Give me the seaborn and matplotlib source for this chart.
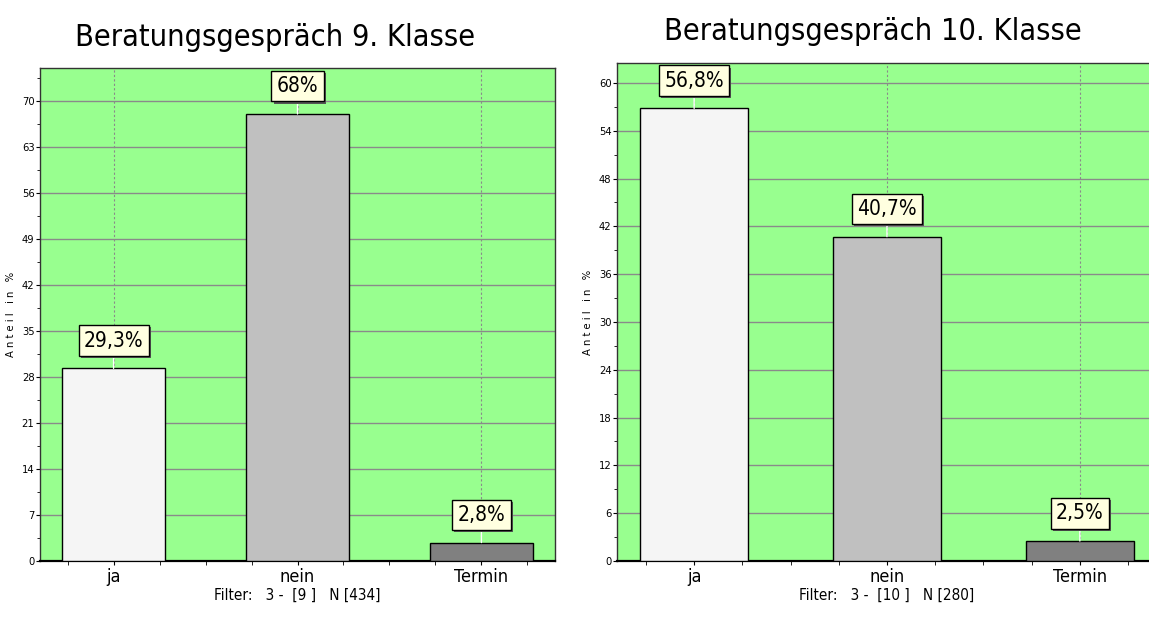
import matplotlib
matplotlib.use('Agg')
import matplotlib.pyplot as plt
import matplotlib.patheffects as pe
import seaborn as sns
import pandas as pd
from matplotlib.ticker import MultipleLocator

# data
kategorien = ['ja', 'nein', 'Termin']
werte_9 = [29.3, 68.0, 2.8]
werte_10 = [56.8, 40.7, 2.5]
labels_9 = ['29,3%', '68%', '2,8%']
labels_10 = ['56,8%', '40,7%', '2,5%']
titel_9 = 'Beratungsgespräch 9. Klasse'
titel_10 = 'Beratungsgespräch 10. Klasse'
filter_9 = 'Filter:   3 -  [9 ]   N [434]'
filter_10 = 'Filter:   3 -  [10 ]   N [280]'

farben = {'ja': '#f5f5f5', 'nein': '#c0c0c0', 'Termin': '#808080'}
gruen = '#98ff8f'

sns.set_style('white')
plt.rcParams['font.family'] = ['DejaVu Sans']
plt.rcParams['font.stretch'] = 'condensed'
for k in ['text.color', 'axes.labelcolor', 'xtick.color', 'ytick.color']:
    plt.rcParams[k] = 'black'

fig = plt.figure(figsize=(11.49, 6.17), dpi=100)
ax1 = fig.add_axes([40 / 1149, 56 / 617, 515 / 1149, 493 / 617])
ax2 = fig.add_axes([617 / 1149, 56 / 617, 540 / 1149, 498 / 617])


def zeichne(ax, werte, labels, ymax, step, filt):
    df = pd.DataFrame({'kat': kategorien, 'wert': werte})
    sns.barplot(data=df, x='kat', y='wert', hue='kat', palette=farben,
                width=0.56, edgecolor='black', linewidth=1.0,
                legend=False, ax=ax, zorder=3)
    ax.set_facecolor(gruen)
    ax.set_xlim(-0.4, 2.4)
    ax.set_ylim(0, ymax)
    ax.yaxis.set_major_locator(MultipleLocator(step))
    ax.yaxis.set_minor_locator(MultipleLocator(step / 2))
    ax.xaxis.set_minor_locator(MultipleLocator(0.25))
    ax.grid(axis='y', which='major', color='#8a8a8a', linewidth=1.0, zorder=0)
    ax.grid(axis='x', which='major', color='#8a8a8a', linewidth=0.8,
            linestyle=(0, (2, 2)), zorder=0)
    ax.set_axisbelow(True)
    ax.tick_params(axis='y', which='major', labelsize=8, length=3, pad=1)
    ax.tick_params(axis='y', which='minor', length=2)
    ax.tick_params(axis='x', which='major', labelsize=13, length=3, pad=2)
    ax.tick_params(axis='x', which='minor', length=3)
    ax.tick_params(left=True, bottom=True, which='both')
    for s in ax.spines.values():
        s.set_color('#333333')
        s.set_linewidth(1.0)
    ax.spines['bottom'].set_linewidth(1.6)
    ax.spines['bottom'].set_color('black')
    ax.set_xlabel(filt, fontsize=11, labelpad=1)
    ax.set_ylabel('A n t e i l   i n   %', fontsize=8, labelpad=4)
    for i, (v, lab) in enumerate(zip(werte, labels)):
        ann = ax.annotate(lab, (i, v), xytext=(0, 20), textcoords='offset points',
                          ha='center', va='center', fontsize=15, zorder=5,
                          bbox=dict(boxstyle='square,pad=0.25', fc='#ffffe0',
                                    ec='black', lw=1.0),
                          arrowprops=dict(arrowstyle='-', color='white', lw=1.0,
                                          shrinkA=0, shrinkB=0))
        ann.get_bbox_patch().set_path_effects(
            [pe.SimplePatchShadow(offset=(1.5, -1.5), shadow_rgbFace='#555555', alpha=1.0),
             pe.Normal()])


zeichne(ax1, werte_9, labels_9, 75, 7, filter_9)
zeichne(ax2, werte_10, labels_10, 62.5, 6, filter_10)

fig.text(275 / 1149, 1 - 37 / 617, titel_9, ha='center', va='center', fontsize=22)
fig.text(873 / 1149, 1 - 32 / 617, titel_10, ha='center', va='center', fontsize=22)

fig.savefig('out.png', dpi=100)
